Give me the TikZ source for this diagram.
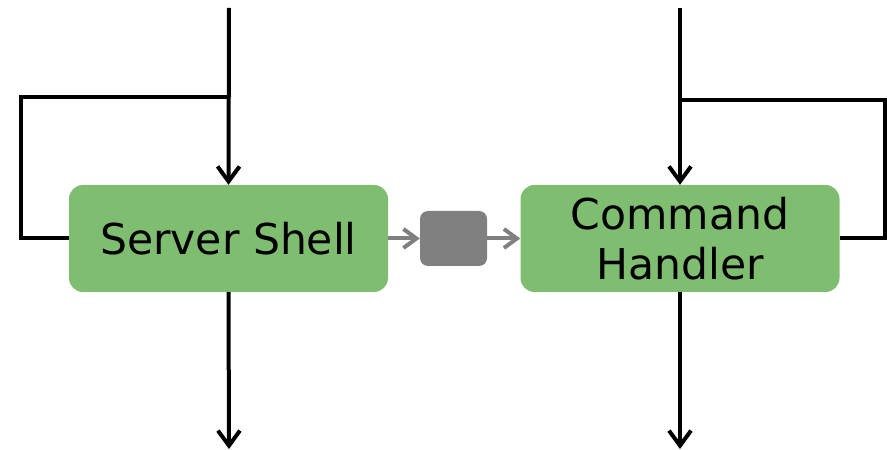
\documentclass[tikz,border=0pt]{standalone}
\usepackage{fontspec}
\setmainfont{DejaVu Sans}
\usetikzlibrary{arrows.meta}
\definecolor{boxgreen}{RGB}{127,190,112}
\definecolor{qgray}{RGB}{128,128,128}
\tikzset{
  x=1pt, y=1pt,
  procbox/.style={fill=boxgreen, rounded corners=14pt, minimum width=319pt,
    minimum height=107pt, inner sep=0pt, align=center,
    font=\fontsize{42.5}{50}\selectfont},
  queuebox/.style={fill=qgray, rounded corners=8pt, minimum width=67pt,
    minimum height=55pt, inner sep=0pt},
  flow/.style={draw=black, line width=4pt,
    -{Straight Barb[length=15pt,width=22pt,line width=4pt]}},
  loopline/.style={draw=black, line width=4pt},
  qflow/.style={draw=qgray, line width=4pt,
    -{Straight Barb[length=13pt,width=19pt,line width=4pt]}}
}
\begin{document}
\begin{tikzpicture}
\useasboundingbox (0,0) rectangle (887,450);

% processing stages
\node[procbox] (shell) at (228.5,211.5) {Server Shell};
\node[procbox] (handler) at (680,211.5) {Command\\Handler};
\node[queuebox] (queue) at (453.5,211.5) {};

% loose ends of the external flows
\coordinate (shellin) at (229,442);
\coordinate (shellout) at (229,1);
\coordinate (handlerin) at (680,442);
\coordinate (handlerout) at (680,1);
\coordinate (shelltap) at (229,353);
\coordinate (handlertap) at (680,350);

% main flows
\draw[flow] (shellin) -- (shell.north);
\draw[flow] (shell.south) -- (shellout);
\draw[flow] (handlerin) -- (handler.north);
\draw[flow] (handler.south) -- (handlerout);

% feedback loops
\draw[loopline] (shelltap) -| (21,211.5) -- (shell.west);
\draw[loopline] (handlertap) -| (885,211.5) -- (handler.east);

% queue between the stages
\draw[qflow] (shell.east) -- (queue.west);
\draw[qflow] (queue.east) -- (handler.west);
\end{tikzpicture}
\end{document}
